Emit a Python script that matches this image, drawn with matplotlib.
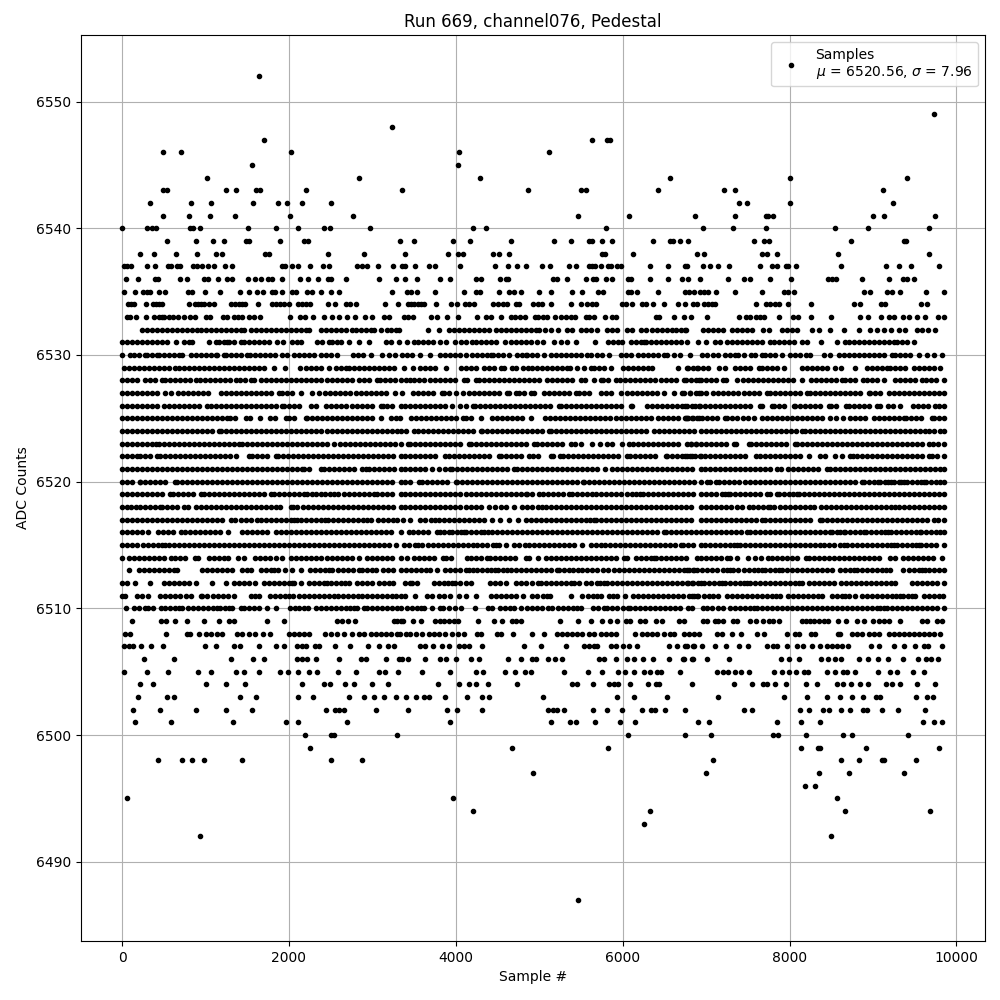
import matplotlib
matplotlib.use("Agg")
import matplotlib.pyplot as plt

# Sample numbers for each ADC level. The sparse levels are
# read point by point; the dense levels are read at about one dot per marker width.
s6552 = [1640]
s6549 = [9728]
s6548 = [3236]
s6547 = [1700, 5632, 5812, 5848]
s6546 = [488, 704, 2024, 4036, 5116]
s6545 = [1556, 4024]
s6544 = [1016, 2840, 4288, 6568, 8000, 9404]
s6543 = [488, 536, 1244, 1364, 1604, 1652, 2204, 3356, 4864, 5500, 5560, 6424, 7220, 7352, 9116]
s6542 = [332, 824, 1064, 1568, 1868, 1976, 2156, 2504, 7400, 7484, 8000, 9236]
s6541 = [488, 800, 1052, 1352, 2012, 2768, 5464, 6076, 6868, 7352, 7712, 7736, 7796, 8996, 9128, 9740]
s6540 = [0, 296, 356, 404, 812, 848, 932, 1508, 1844, 2108, 2420, 2492, 2972, 4204, 4360, 5800, 6968, 7328, 7712, 8540, 8936, 9668]
s6539 = [536, 884, 1088, 1220, 1484, 1520, 1892, 2180, 2228, 3332, 3496, 3964, 4168, 4660, 5176, 5380, 5596, 5632, 5752, 5872, 6364, 6568, 6604, 6688, 6784, 7568, 7688, 7748, 8732, 9368, 9392]
s6538 = [212, 380, 644, 896, 1124, 1196, 1712, 1760, 2468, 2900, 3388, 3904, 4024, 4084, 4444, 4516, 4636, 5752, 5788, 6124, 6892, 6980, 7664, 7724, 7844, 8576, 9668]
s6537 = [20, 56, 104, 296, 392, 548, 584, 656, 692, 848, 896, 956, 1028, 1100, 1232, 1316, 1916, 1952, 2036, 2108, 2252, 2408, 2480, 2816, 2876, 2936, 3068, 3248, 3352, 3388, 3508, 3676, 3748, 4048, 4468, 4624, 4732, 4840, 5032, 5128, 5356, 5440, 5596, 5632, 5668, 5740, 5824, 5860, 5932, 5980, 6328, 6544, 6748, 6772, 6968, 7052, 7148, 7280, 7640, 7784, 7844, 7952, 7976, 8080, 8612, 9152, 9308, 9452, 9788]
s6536 = [44, 188, 392, 428, 692, 776, 980, 1028, 1148, 1256, 1316, 1508, 1592, 1664, 1748, 1796, 1916, 2132, 2228, 2348, 2468, 2504, 2684, 3080, 3284, 3388, 3532, 3808, 3928, 4240, 4300, 4528, 4600, 4624, 5164, 5212, 5332, 5560, 5644, 5680, 5800, 5872, 6064, 6100, 6328, 6544, 6712, 6784, 6932, 7268, 7448, 7520, 7760, 8012, 8456, 8504, 8552, 8864, 9188, 9356, 9404, 9488]
s6535 = [20, 152, 248, 296, 332, 440, 512, 788, 836, 992, 1172, 1412, 1520, 1616, 1688, 1796, 1832, 1916, 2036, 2084, 2216, 2276, 2384, 2504, 2600, 3236, 3412, 3460, 3532, 3748, 4096, 4240, 4288, 4516, 4636, 4696, 4780, 4996, 5140, 5392, 5512, 5704, 5764, 6064, 6100, 6172, 6424, 6748, 6796, 6856, 6928, 6980, 7028, 7124, 7352, 7664, 7928, 7976, 8048, 8888, 8960, 9164, 9224, 9320, 9632, 9848]
s6534 = [68, 104, 140, 284, 368, 404, 440, 476, 800, 872, 908, 944, 980, 1040, 1100, 1304, 1352, 1400, 1436, 1472, 1628, 1796, 1844, 1892, 1940, 2000, 2108, 2156, 2204, 2252, 2468, 2552, 2684, 2732, 2804, 3152, 3308, 3424, 3460, 3496, 3544, 3580, 3616, 3760, 3940, 4012, 4108, 4156, 4216, 4444, 4504, 4564, 4612, 4720, 4756, 4924, 4984, 5032, 5140, 5380, 5500, 5572, 5632, 5680, 5992, 6040, 6112, 6232, 6280, 6364, 6496, 6664, 6748, 6844, 6892, 6980, 7028, 7076, 7112, 7592, 7712, 7760, 7820, 7868, 7976, 8252, 8768, 8840, 9092, 9140, 9572, 9644]
s6533 = [56, 92, 164, 284, 380, 440, 476, 500, 560, 608, 668, 740, 812, 872, 1004, 1052, 1208, 1256, 1340, 1388, 1436, 1520, 1580, 1652, 2012, 2132, 2192, 2288, 2420, 2516, 2600, 2696, 2792, 2912, 2996, 3140, 3200, 3376, 3424, 3484, 3704, 3776, 3892, 4024, 4252, 4360, 4420, 4540, 4660, 4708, 4768, 4828, 4948, 4984, 5044, 5092, 5188, 5260, 5320, 5380, 5428, 5560, 5596, 5656, 5788, 5872, 5920, 6400, 6436, 6616, 6736, 6820, 7016, 7400, 7472, 7520, 7592, 7640, 7688, 7868, 8036, 8096, 8252, 8492, 8840, 8936, 9092, 9188, 9248, 9356, 9428, 9524, 9620, 9776, 9848]
s6532 = [240, 300, 360, 420, 480, 540, 600, 660, 720, 780, 840, 900, 940, 1010, 1070, 1130, 1190, 1250, 1310, 1370, 1430, 1460, 1540, 1600, 1660, 1720, 1780, 1840, 1900, 1960, 2020, 2080, 2140, 2200, 2240, 2380, 2440, 2500, 2560, 2620, 2680, 2760, 2800, 2860, 2920, 2980, 3020, 3100, 3180, 3220, 3280, 3320, 3664, 3796, 3916, 3976, 4036, 4096, 4156, 4216, 4276, 4336, 4396, 4476, 4536, 4596, 4656, 4716, 4776, 4836, 4896, 4956, 4996, 5064, 5136, 5224, 5336, 5396, 5496, 5556, 5624, 5688, 5816, 5876, 5936, 6056, 6116, 6216, 6276, 6356, 6416, 6476, 6536, 6596, 6636, 6696, 6756, 6748, 6968, 7028, 7088, 7148, 7208, 7308, 7368, 7428, 7488, 7548, 7676, 7748, 7908, 7968, 8028, 8088, 8268, 8348, 8488, 8648, 8828, 8968, 9048, 9136, 9216, 9308, 9388, 9532, 9592, 9660, 9748]
s6531 = [0, 60, 120, 180, 240, 300, 360, 420, 480, 540, 644, 748, 800, 840, 1040, 1120, 1160, 1220, 1260, 1280, 1340, 1420, 1460, 1520, 1580, 1640, 1700, 1760, 1860, 1932, 2040, 2100, 2140, 2340, 2400, 2480, 2520, 2580, 2620, 2720, 2840, 2960, 3160, 3220, 3320, 3416, 3504, 3544, 3604, 3664, 3724, 3808, 3888, 3988, 4064, 4124, 4196, 4236, 4296, 4356, 4416, 4476, 4584, 4656, 4716, 4776, 4836, 4896, 4968, 5048, 5176, 5256, 5328, 5436, 5664, 5824, 5884, 5944, 5996, 6096, 6156, 6216, 6256, 6276, 6336, 6396, 6456, 6516, 6576, 6636, 6696, 6776, 6908, 7000, 7108, 7168, 7248, 7308, 7368, 7428, 7488, 7548, 7608, 7668, 7768, 7808, 7868, 7928, 7988, 8048, 8148, 8208, 8376, 8568, 8668, 8708, 8768, 8828, 8888, 8948, 9008, 9068, 9128, 9188, 9248, 9288, 9348, 9408, 9488]
s6530 = [0, 100, 140, 200, 280, 300, 360, 420, 440, 500, 560, 620, 680, 720, 820, 880, 940, 1000, 1060, 1120, 1140, 1220, 1250, 1310, 1370, 1430, 1500, 1530, 1590, 1650, 1710, 1770, 1830, 1920, 1980, 2060, 2120, 2180, 2240, 2300, 2380, 2440, 2500, 2570, 2770, 2830, 2890, 2980, 3120, 3200, 3270, 3360, 3420, 3480, 3576, 3696, 3816, 3876, 3936, 3996, 4056, 4116, 4196, 4248, 4308, 4368, 4416, 4448, 4508, 4568, 4636, 4728, 4788, 4836, 4856, 4916, 4976, 5056, 5136, 5196, 5256, 5316, 5376, 5436, 5496, 5576, 5616, 5688, 5748, 5836, 5976, 6036, 6096, 6184, 6248, 6308, 6368, 6428, 6496, 6536, 6616, 6688, 6808, 6948, 7008, 7088, 7148, 7228, 7288, 7348, 7388, 7448, 7536, 7588, 7668, 7708, 7768, 7828, 7908, 8008, 8068, 8128, 8200, 8240, 8408, 8480, 8588, 8648, 8708, 8768, 8828, 8888, 8948, 9008, 9068, 9128, 9228, 9268, 9328, 9388, 9448, 9556, 9648, 9728, 9828]
s6529 = [20, 80, 140, 200, 260, 320, 380, 440, 500, 560, 640, 680, 740, 800, 860, 920, 980, 1040, 1100, 1160, 1220, 1280, 1340, 1400, 1460, 1520, 1580, 1640, 1700, 1820, 1950, 2130, 2200, 2260, 2320, 2380, 2480, 2560, 2620, 2680, 2720, 2780, 2840, 2900, 2960, 3020, 3080, 3140, 3200, 3260, 3384, 3488, 3576, 3636, 3696, 3756, 3888, 4064, 4124, 4184, 4244, 4336, 4396, 4456, 4536, 4576, 4676, 4716, 4808, 4868, 4916, 4976, 5036, 5096, 5156, 5216, 5276, 5336, 5368, 5456, 5536, 5616, 5656, 5716, 5776, 5856, 6008, 6068, 6128, 6188, 6248, 6308, 6356, 6664, 6784, 6896, 6776, 6848, 6908, 6968, 7028, 7160, 7228, 7348, 7408, 7468, 7528, 7628, 7668, 7728, 7788, 7848, 7928, 8148, 8208, 8268, 8328, 8388, 8448, 8548, 8616, 8788, 8928, 8988, 9048, 9108, 9168, 9208, 9268, 9328, 9388, 9488, 9548, 9608, 9668, 9728, 9808]
s6528 = [0, 60, 120, 180, 280, 330, 390, 480, 510, 570, 630, 690, 750, 810, 880, 930, 990, 1050, 1110, 1170, 1230, 1290, 1360, 1410, 1470, 1540, 1580, 1670, 1730, 1790, 1850, 1910, 1970, 2030, 2090, 2150, 2210, 2270, 2330, 2390, 2450, 2510, 2570, 2630, 2690, 2750, 2840, 2900, 2960, 3060, 3090, 3150, 3210, 3270, 3340, 3400, 3456, 3496, 3556, 3616, 3688, 3756, 3816, 3876, 3936, 3996, 4096, 4136, 4236, 4276, 4336, 4396, 4456, 4516, 4576, 4636, 4696, 4756, 4816, 4876, 4936, 4996, 5088, 5148, 5208, 5268, 5328, 5388, 5496, 5544, 5656, 5736, 5768, 5828, 5916, 5968, 6028, 6088, 6148, 6208, 6268, 6328, 6388, 6456, 6516, 6576, 6636, 6736, 6816, 6916, 6760, 6876, 6936, 6996, 7056, 7116, 7200, 7240, 7368, 7440, 7500, 7560, 7620, 7680, 7740, 7800, 7860, 7920, 7980, 8040, 8148, 8256, 8316, 8376, 8436, 8496, 8556, 8628, 8668, 8720, 8780, 8880, 8928, 8988, 9048, 9128, 9268, 9328, 9388, 9448, 9508, 9588, 9640, 9700, 9760, 9848]
s6527 = [0, 60, 120, 180, 240, 300, 360, 420, 520, 590, 670, 730, 790, 850, 910, 970, 1030, 1180, 1240, 1300, 1360, 1420, 1480, 1540, 1600, 1660, 1720, 1780, 1880, 1920, 1980, 2040, 2140, 2280, 2360, 2430, 2490, 2550, 2610, 2670, 2730, 2800, 2860, 2920, 2980, 3040, 3100, 3160, 3270, 3356, 3488, 3544, 3608, 3668, 3728, 3836, 3864, 3924, 4008, 4088, 4156, 4216, 4276, 4336, 4396, 4456, 4516, 4608, 4636, 4716, 4756, 4816, 4896, 4936, 5056, 5116, 5176, 5236, 5296, 5356, 5436, 5476, 5536, 5596, 5744, 5804, 5864, 5984, 6056, 6116, 6176, 6236, 6296, 6356, 6416, 6496, 6616, 6736, 6808, 6916, 6708, 6808, 6876, 6936, 6996, 7080, 7148, 7208, 7268, 7328, 7388, 7448, 7508, 7568, 7628, 7728, 7760, 7820, 7880, 7940, 8000, 8060, 8120, 8208, 8240, 8300, 8360, 8420, 8480, 8540, 8600, 8660, 8720, 8780, 8840, 8948, 8960, 9020, 9080, 9188, 9248, 9308, 9368, 9428, 9488, 9548, 9608, 9668, 9728, 9788, 9850]
s6526 = [0, 60, 120, 180, 240, 300, 360, 420, 500, 560, 620, 680, 740, 800, 860, 920, 1020, 1060, 1120, 1180, 1240, 1300, 1360, 1420, 1480, 1540, 1600, 1660, 1720, 1780, 1840, 1920, 1940, 2000, 2060, 2120, 2260, 2320, 2440, 2500, 2560, 2620, 2680, 2760, 2820, 2880, 2940, 3000, 3100, 3130, 3180, 3240, 3340, 3396, 3456, 3516, 3576, 3636, 3696, 3756, 3816, 3876, 3956, 4056, 4116, 4208, 4224, 4284, 4344, 4404, 4464, 4524, 4584, 4644, 4704, 4764, 4824, 4884, 4944, 5004, 5064, 5124, 5236, 5264, 5324, 5384, 5444, 5504, 5564, 5624, 5684, 5744, 5804, 5864, 5924, 5984, 6096, 6116, 6288, 6348, 6408, 6468, 6528, 6588, 6648, 6708, 6768, 6828, 6916, 6748, 6868, 6928, 6988, 7048, 7108, 7168, 7228, 7288, 7348, 7408, 7468, 7528, 7648, 7668, 7788, 7808, 7868, 7928, 8048, 8068, 8128, 8188, 8248, 8308, 8368, 8468, 8496, 8556, 8680, 8708, 8768, 8828, 8888, 8948, 9048, 9088, 9176, 9240, 9328, 9476, 9536, 9596, 9656, 9748, 9788, 9848]
s6525 = [0, 60, 120, 180, 240, 300, 360, 420, 480, 540, 600, 660, 720, 780, 840, 900, 960, 1020, 1080, 1140, 1200, 1260, 1290, 1350, 1490, 1530, 1650, 1770, 1830, 1960, 2000, 2060, 2200, 2220, 2280, 2340, 2400, 2460, 2520, 2580, 2640, 2700, 2760, 2820, 2880, 2940, 3000, 3100, 3220, 3280, 3336, 3464, 3524, 3584, 3644, 3704, 3764, 3824, 3884, 3944, 4004, 4088, 4116, 4176, 4304, 4436, 4496, 4556, 4616, 4676, 4736, 4796, 4904, 5064, 5124, 5184, 5244, 5304, 5364, 5424, 5484, 5544, 5604, 5664, 5724, 5784, 5844, 5916, 5976, 6036, 6096, 6156, 6216, 6276, 6336, 6424, 6488, 6548, 6608, 6668, 6756, 6784, 6844, 6916, 6748, 6776, 6836, 6896, 6956, 7016, 7076, 7136, 7228, 7256, 7316, 7376, 7436, 7496, 7568, 7668, 7728, 7788, 7848, 7908, 7968, 8028, 8088, 8148, 8208, 8268, 8328, 8388, 8488, 8552, 8640, 8728, 8788, 8848, 8908, 9008, 9068, 9128, 9188, 9248, 9308, 9368, 9400, 9460, 9520, 9580, 9708, 9736, 9796, 9848]
s6524 = [0, 60, 120, 180, 240, 300, 360, 420, 480, 540, 600, 660, 720, 780, 840, 900, 960, 1020, 1080, 1160, 1190, 1250, 1310, 1370, 1430, 1490, 1550, 1610, 1670, 1730, 1790, 1850, 1910, 1970, 2030, 2090, 2150, 2210, 2270, 2330, 2390, 2450, 2520, 2570, 2630, 2690, 2750, 2810, 2870, 2930, 2990, 3050, 3110, 3170, 3230, 3290, 3340, 3400, 3496, 3544, 3604, 3664, 3724, 3784, 3844, 3904, 3964, 4024, 4084, 4144, 4204, 4296, 4316, 4376, 4436, 4496, 4556, 4616, 4676, 4736, 4796, 4856, 4916, 4976, 5036, 5116, 5144, 5204, 5264, 5324, 5384, 5444, 5504, 5564, 5624, 5684, 5744, 5804, 5864, 5924, 5984, 6044, 6104, 6164, 6224, 6284, 6376, 6436, 6496, 6556, 6616, 6676, 6736, 6796, 6856, 6936, 7000, 7060, 7120, 7180, 7240, 7300, 7360, 7420, 7480, 7540, 7600, 7660, 7720, 7780, 7840, 7900, 7960, 8020, 8080, 8148, 8188, 8248, 8308, 8368, 8428, 8488, 8548, 8608, 8668, 8728, 8788, 8848, 8908, 8968, 9028, 9088, 9148, 9208, 9268, 9328, 9388, 9448, 9508, 9568, 9628, 9668, 9728, 9808, 9848]
s6523 = [0, 60, 120, 180, 240, 300, 360, 410, 440, 500, 560, 620, 680, 740, 800, 860, 920, 980, 1040, 1100, 1160, 1220, 1280, 1340, 1400, 1440, 1500, 1560, 1620, 1680, 1740, 1800, 1860, 1920, 1980, 2040, 2100, 2160, 2220, 2280, 2340, 2400, 2460, 2540, 2610, 2670, 2730, 2790, 2850, 2910, 2970, 3030, 3090, 3150, 3210, 3270, 3340, 3424, 3448, 3508, 3568, 3628, 3688, 3748, 3808, 3868, 3928, 3988, 4048, 4156, 4184, 4244, 4304, 4364, 4424, 4484, 4544, 4604, 4664, 4724, 4784, 4844, 4936, 4976, 5036, 5096, 5156, 5216, 5276, 5376, 5424, 5504, 5636, 5724, 5816, 5876, 5996, 6076, 6128, 6188, 6248, 6308, 6368, 6428, 6488, 6548, 6608, 6668, 6776, 6824, 6884, 6936, 6816, 6876, 6996, 7056, 7116, 7176, 7236, 7336, 7360, 7508, 7536, 7596, 7656, 7716, 7776, 7836, 7896, 7956, 8068, 8088, 8148, 8208, 8268, 8328, 8388, 8448, 8508, 8568, 8628, 8688, 8748, 8808, 8868, 8928, 8988, 9048, 9108, 9168, 9228, 9288, 9348, 9408, 9468, 9528, 9588, 9668, 9720, 9780, 9850]
s6522 = [0, 60, 120, 180, 210, 270, 330, 420, 450, 510, 570, 630, 690, 750, 810, 870, 930, 990, 1050, 1110, 1170, 1230, 1290, 1360, 1520, 1560, 1620, 1680, 1740, 1840, 1870, 1930, 1990, 2050, 2110, 2170, 2230, 2290, 2350, 2410, 2470, 2530, 2590, 2650, 2710, 2770, 2830, 2890, 2950, 3010, 3070, 3130, 3190, 3250, 3340, 3396, 3456, 3516, 3576, 3636, 3696, 3756, 3876, 3916, 3976, 4036, 4096, 4156, 4216, 4276, 4336, 4396, 4516, 4536, 4596, 4656, 4716, 4776, 4876, 4928, 4988, 5136, 5168, 5248, 5288, 5348, 5408, 5468, 5528, 5588, 5648, 5708, 5768, 5828, 5888, 5948, 6056, 6088, 6148, 6208, 6268, 6328, 6388, 6516, 6536, 6596, 6656, 6716, 6776, 6836, 6936, 6748, 6808, 6868, 6928, 6988, 7048, 7108, 7168, 7228, 7288, 7348, 7408, 7468, 7600, 7640, 7700, 7760, 7820, 7880, 7940, 8000, 8060, 8120, 8228, 8368, 8428, 8548, 8628, 8728, 8760, 8808, 8868, 8928, 8988, 9048, 9108, 9168, 9228, 9288, 9348, 9408, 9468, 9528, 9588, 9668, 9708, 9768, 9850]
s6521 = [0, 60, 120, 180, 240, 300, 360, 420, 480, 540, 600, 660, 720, 780, 840, 900, 960, 1020, 1080, 1140, 1200, 1260, 1320, 1380, 1440, 1500, 1560, 1620, 1680, 1740, 1800, 1860, 1920, 1980, 2040, 2100, 2160, 2180, 2240, 2380, 2420, 2480, 2540, 2600, 2660, 2720, 2780, 2880, 2920, 2960, 3020, 3080, 3140, 3200, 3260, 3340, 3396, 3456, 3516, 3576, 3636, 3716, 3796, 3876, 3936, 3956, 4016, 4076, 4136, 4196, 4256, 4316, 4376, 4436, 4496, 4556, 4616, 4696, 4736, 4796, 4856, 4916, 4976, 5036, 5096, 5156, 5216, 5276, 5336, 5396, 5456, 5516, 5576, 5636, 5696, 5784, 5876, 5936, 5996, 6056, 6116, 6176, 6236, 6296, 6356, 6416, 6476, 6536, 6596, 6656, 6716, 6776, 6836, 6936, 6988, 7048, 7108, 7168, 7228, 7288, 7348, 7408, 7468, 7528, 7588, 7648, 7708, 7768, 7848, 7896, 7976, 8036, 8096, 8156, 8216, 8276, 8336, 8448, 8488, 8548, 8608, 8668, 8728, 8788, 8848, 8908, 8968, 9028, 9088, 9148, 9208, 9268, 9328, 9388, 9448, 9508, 9568, 9628, 9688, 9748, 9808, 9850]
s6520 = [0, 60, 120, 210, 220, 280, 340, 400, 460, 520, 630, 660, 720, 780, 840, 900, 960, 1020, 1080, 1140, 1200, 1260, 1320, 1380, 1440, 1500, 1560, 1620, 1680, 1740, 1800, 1860, 1920, 1980, 2040, 2100, 2160, 2220, 2280, 2340, 2400, 2460, 2520, 2580, 2640, 2700, 2760, 2820, 2880, 2940, 3000, 3060, 3120, 3180, 3240, 3340, 3396, 3456, 3556, 3596, 3656, 3716, 3776, 3836, 3896, 4008, 4016, 4076, 4136, 4196, 4256, 4316, 4376, 4436, 4496, 4556, 4616, 4676, 4736, 4796, 4856, 4916, 4976, 5036, 5096, 5156, 5216, 5276, 5336, 5396, 5456, 5528, 5536, 5596, 5656, 5716, 5776, 5836, 5896, 5956, 6016, 6076, 6136, 6196, 6256, 6316, 6376, 6436, 6496, 6556, 6616, 6676, 6736, 6796, 6856, 6936, 7016, 7048, 7120, 7160, 7220, 7280, 7340, 7400, 7460, 7520, 7580, 7640, 7700, 7760, 7820, 7880, 7940, 8000, 8060, 8120, 8180, 8240, 8300, 8360, 8420, 8480, 8540, 8600, 8660, 8720, 8780, 8868, 8888, 8950, 9010, 9056, 9080, 9140, 9180, 9216, 9248, 9310, 9340, 9376, 9408, 9468, 9528, 9570, 9616, 9640, 9700, 9760, 9800, 9850]
s6519 = [0, 60, 120, 180, 240, 300, 360, 420, 480, 580, 610, 670, 730, 790, 850, 940, 980, 1040, 1100, 1160, 1220, 1280, 1340, 1400, 1460, 1520, 1580, 1640, 1700, 1790, 1820, 1880, 1940, 2000, 2060, 2120, 2180, 2220, 2280, 2330, 2380, 2430, 2490, 2540, 2590, 2660, 2720, 2780, 2840, 2900, 2960, 3020, 3060, 3120, 3180, 3240, 3340, 3396, 3456, 3516, 3576, 3636, 3696, 3756, 3816, 3876, 3936, 3996, 4056, 4116, 4176, 4236, 4296, 4356, 4416, 4476, 4536, 4596, 4656, 4716, 4776, 4836, 4856, 4916, 4996, 5048, 5108, 5168, 5228, 5288, 5356, 5396, 5456, 5516, 5576, 5630, 5676, 5736, 5796, 5856, 5916, 5976, 6056, 6116, 6160, 6208, 6248, 6308, 6368, 6428, 6488, 6548, 6608, 6668, 6728, 6788, 6848, 6936, 7000, 7060, 7120, 7190, 7230, 7268, 7288, 7348, 7408, 7468, 7528, 7588, 7648, 7728, 7760, 7848, 7868, 7928, 7988, 8040, 8088, 8108, 8168, 8228, 8288, 8348, 8408, 8468, 8528, 8588, 8648, 8708, 8768, 8828, 8888, 8948, 9008, 9068, 9128, 9188, 9248, 9308, 9368, 9428, 9488, 9548, 9608, 9668, 9728, 9788, 9850]
s6518 = [0, 60, 110, 170, 210, 270, 330, 390, 450, 480, 540, 600, 660, 740, 790, 890, 950, 1010, 1070, 1130, 1190, 1250, 1310, 1370, 1430, 1490, 1550, 1610, 1670, 1730, 1790, 1850, 1890, 2020, 2050, 2100, 2170, 2230, 2290, 2350, 2410, 2470, 2530, 2590, 2650, 2710, 2770, 2830, 2890, 2950, 3010, 3070, 3130, 3190, 3250, 3340, 3396, 3456, 3516, 3576, 3636, 3696, 3756, 3816, 3876, 3936, 3996, 4056, 4116, 4180, 4236, 4304, 4396, 4468, 4536, 4596, 4696, 4796, 4856, 4916, 4980, 5030, 5076, 5144, 5204, 5264, 5324, 5384, 5444, 5504, 5564, 5624, 5684, 5744, 5804, 5864, 5924, 5984, 6044, 6104, 6164, 6224, 6284, 6344, 6404, 6464, 6524, 6584, 6644, 6704, 6764, 6824, 6936, 6996, 7056, 7116, 7176, 7236, 7300, 7368, 7428, 7508, 7560, 7620, 7680, 7740, 7770, 7808, 7888, 7948, 8008, 8068, 8128, 8190, 8248, 8296, 8376, 8436, 8496, 8556, 8616, 8676, 8736, 8796, 8856, 8916, 8976, 9036, 9096, 9156, 9210, 9268, 9308, 9368, 9428, 9488, 9548, 9608, 9668, 9728, 9788, 9850]
s6517 = [0, 60, 120, 180, 240, 300, 360, 420, 480, 540, 600, 660, 720, 780, 840, 900, 960, 1020, 1080, 1140, 1200, 1300, 1350, 1430, 1490, 1550, 1620, 1670, 1730, 1790, 1850, 1910, 1970, 2030, 2060, 2100, 2140, 2200, 2260, 2320, 2380, 2430, 2470, 2530, 2590, 2650, 2710, 2770, 2830, 2890, 2940, 2980, 3070, 3130, 3190, 3250, 3300, 3368, 3448, 3568, 3628, 3700, 3756, 3796, 3856, 3916, 3976, 4036, 4096, 4156, 4216, 4276, 4336, 4436, 4528, 4636, 4744, 4836, 4896, 4956, 5016, 5076, 5136, 5196, 5256, 5316, 5376, 5436, 5496, 5556, 5610, 5656, 5676, 5736, 5796, 5856, 5916, 5976, 6036, 6096, 6156, 6216, 6276, 6336, 6396, 6456, 6516, 6576, 6636, 6696, 6756, 6816, 6936, 6996, 7056, 7116, 7176, 7236, 7296, 7356, 7416, 7476, 7536, 7596, 7668, 7708, 7768, 7828, 7888, 7948, 8008, 8068, 8128, 8188, 8248, 8360, 8388, 8448, 8508, 8568, 8628, 8688, 8748, 8808, 8868, 8928, 8988, 9048, 9108, 9168, 9228, 9288, 9348, 9408, 9468, 9528, 9588, 9648, 9728, 9780, 9850]
s6516 = [0, 60, 120, 180, 240, 310, 430, 490, 550, 610, 710, 750, 810, 870, 930, 990, 1050, 1110, 1170, 1270, 1440, 1500, 1560, 1620, 1680, 1740, 1840, 1900, 1960, 2020, 2080, 2140, 2200, 2260, 2320, 2380, 2440, 2500, 2560, 2620, 2680, 2740, 2800, 2860, 2920, 2980, 3040, 3100, 3160, 3220, 3340, 3436, 3488, 3548, 3608, 3668, 3776, 3808, 3860, 3916, 3956, 4016, 4060, 4096, 4116, 4176, 4236, 4300, 4340, 4384, 4436, 4496, 4556, 4616, 4676, 4736, 4796, 4856, 4916, 4976, 5036, 5096, 5156, 5216, 5276, 5336, 5396, 5456, 5516, 5576, 5636, 5696, 5756, 5816, 5876, 5936, 5996, 6056, 6116, 6176, 6236, 6296, 6356, 6416, 6496, 6516, 6576, 6636, 6696, 6756, 6816, 6876, 6936, 6996, 7056, 7116, 7176, 7236, 7296, 7356, 7420, 7488, 7520, 7580, 7640, 7700, 7760, 7820, 7880, 7940, 8000, 8060, 8120, 8180, 8240, 8300, 8360, 8420, 8488, 8508, 8570, 8610, 8648, 8668, 8728, 8790, 8840, 8888, 8920, 8980, 9040, 9100, 9140, 9176, 9220, 9280, 9340, 9400, 9460, 9510, 9560, 9576, 9636, 9696, 9756, 9800, 9850]
s6515 = [0, 60, 120, 180, 250, 310, 370, 430, 480, 520, 560, 620, 680, 740, 800, 860, 920, 980, 1040, 1100, 1160, 1220, 1280, 1340, 1400, 1460, 1520, 1580, 1640, 1700, 1760, 1820, 1880, 1940, 2000, 2060, 2120, 2180, 2240, 2300, 2360, 2420, 2480, 2540, 2600, 2660, 2720, 2780, 2840, 2900, 2960, 3020, 3080, 3140, 3200, 3280, 3384, 3444, 3510, 3550, 3596, 3664, 3724, 3784, 3844, 3904, 3964, 4024, 4084, 4144, 4200, 4248, 4316, 4376, 4440, 4480, 4516, 4596, 4696, 4756, 4824, 4876, 4936, 4996, 5056, 5116, 5176, 5236, 5296, 5360, 5416, 5516, 5616, 5680, 5744, 5784, 5844, 5904, 5964, 6024, 6084, 6144, 6204, 6264, 6324, 6384, 6444, 6504, 6564, 6630, 6696, 6728, 6788, 6848, 6936, 6988, 7048, 7108, 7168, 7228, 7290, 7330, 7368, 7408, 7468, 7528, 7588, 7648, 7708, 7768, 7828, 7888, 7948, 8008, 8068, 8128, 8188, 8248, 8308, 8360, 8408, 8468, 8536, 8600, 8648, 8688, 8748, 8808, 8868, 8928, 8988, 9048, 9108, 9170, 9210, 9248, 9288, 9348, 9408, 9470, 9510, 9548, 9576, 9636, 9696, 9756, 9850]
s6514 = [0, 80, 140, 200, 260, 320, 380, 440, 500, 590, 630, 690, 750, 870, 910, 1040, 1100, 1160, 1220, 1270, 1390, 1460, 1590, 1650, 1710, 1770, 1840, 1920, 2020, 2080, 2140, 2200, 2260, 2320, 2390, 2450, 2510, 2570, 2630, 2690, 2750, 2840, 2930, 2990, 3050, 3110, 3170, 3230, 3340, 3416, 3496, 3556, 3616, 3676, 3736, 3848, 3888, 3948, 4136, 4184, 4244, 4304, 4368, 4408, 4468, 4528, 4588, 4648, 4708, 4836, 4876, 4984, 5076, 5136, 5196, 5256, 5316, 5376, 5436, 5496, 5556, 5616, 5676, 5736, 5796, 5856, 5916, 6016, 6056, 6156, 6216, 6276, 6336, 6376, 6396, 6456, 6516, 6576, 6636, 6696, 6756, 6896, 6936, 7000, 7060, 7120, 7180, 7248, 7288, 7376, 7496, 7584, 7660, 7736, 7788, 7848, 7908, 7968, 8028, 8088, 8200, 8228, 8288, 8348, 8408, 8468, 8528, 8588, 8648, 8708, 8768, 8828, 8888, 8948, 9008, 9068, 9208, 9260, 9360, 9420, 9480, 9540, 9600, 9660, 9720, 9828]
s6513 = [80, 200, 260, 320, 380, 440, 500, 560, 620, 660, 960, 1020, 1080, 1140, 1200, 1260, 1320, 1440, 1500, 1550, 1670, 1730, 1780, 1820, 1870, 1950, 2040, 2150, 2250, 2310, 2370, 2430, 2480, 2520, 2590, 2650, 2710, 2770, 2840, 2880, 2940, 3000, 3040, 3130, 3190, 3250, 3340, 3400, 3460, 3520, 3580, 3640, 3696, 3776, 3876, 3936, 3996, 4056, 4116, 4160, 4208, 4248, 4310, 4370, 4420, 4464, 4504, 4560, 4610, 4656, 4716, 4776, 4836, 4896, 4956, 5016, 5076, 5136, 5208, 5236, 5296, 5356, 5410, 5464, 5516, 5576, 5636, 5696, 5760, 5824, 5896, 5956, 6016, 6076, 6136, 6196, 6256, 6316, 6376, 6436, 6496, 6556, 6616, 6676, 6736, 6796, 6846, 6896, 6776, 6856, 6956, 7016, 7076, 7136, 7200, 7250, 7288, 7328, 7388, 7448, 7508, 7570, 7620, 7668, 7708, 7770, 7820, 7868, 7908, 7968, 8028, 8088, 8148, 8208, 8268, 8328, 8388, 8450, 8508, 8608, 8668, 8720, 8768, 8808, 8868, 8928, 8988, 9048, 9110, 9160, 9208, 9360, 9428, 9488, 9550, 9590, 9628, 9668, 9728, 9788, 9850]
s6512 = [0, 60, 160, 330, 500, 560, 620, 680, 740, 800, 880, 1080, 1250, 1340, 1400, 1460, 1520, 1590, 1700, 1760, 1820, 1880, 1940, 2000, 2040, 2060, 2140, 2240, 2300, 2360, 2420, 2460, 2500, 2560, 2620, 2670, 2720, 2820, 2880, 2940, 3000, 3080, 3140, 3200, 3250, 3396, 3456, 3480, 3536, 3736, 3796, 3860, 3910, 3956, 3996, 4056, 4116, 4184, 4408, 4468, 4530, 4596, 4716, 4776, 4840, 4916, 4984, 5016, 5076, 5136, 5196, 5260, 5320, 5376, 5416, 5480, 5556, 5624, 5690, 5730, 5776, 5816, 5876, 5936, 5996, 6056, 6116, 6176, 6236, 6296, 6356, 6416, 6476, 6536, 6596, 6656, 6716, 6776, 6836, 6936, 6788, 6848, 6908, 6970, 7030, 7090, 7150, 7190, 7228, 7288, 7348, 7410, 7450, 7488, 7528, 7588, 7648, 7708, 7768, 7828, 7888, 7950, 8010, 8070, 8110, 8148, 8228, 8288, 8350, 8410, 8470, 8536, 8616, 8676, 8736, 8796, 8856, 8916, 8980, 9040, 9100, 9160, 9220, 9268, 9468, 9528, 9588, 9648, 9708, 9768, 9850]
s6511 = [0, 40, 180, 240, 310, 460, 520, 580, 640, 700, 760, 820, 940, 960, 1020, 1090, 1150, 1210, 1270, 1340, 1540, 1590, 1640, 1770, 1830, 1890, 1950, 2000, 2050, 2120, 2180, 2240, 2300, 2360, 2420, 2480, 2540, 2590, 2650, 2710, 2770, 2830, 2880, 2940, 3000, 3060, 3120, 3180, 3240, 3280, 3340, 3396, 3516, 3656, 3720, 3796, 3856, 3936, 4036, 4116, 4236, 4416, 4476, 4540, 4600, 4656, 4716, 4808, 4916, 4976, 5040, 5090, 5128, 5376, 5516, 5580, 5640, 5690, 5736, 5836, 5880, 5936, 6024, 6128, 6188, 6248, 6308, 6368, 6428, 6488, 6548, 6608, 6668, 6728, 6790, 6828, 6850, 6890, 6908, 6970, 7030, 7088, 7148, 7248, 7308, 7368, 7428, 7490, 7550, 7610, 7670, 7730, 7790, 7840, 7888, 7976, 8036, 8100, 8160, 8220, 8280, 8340, 8388, 8508, 8570, 8630, 8670, 8708, 8788, 8868, 8928, 8990, 9050, 9110, 9170, 9230, 9280, 9328, 9360, 9420, 9470, 9508, 9608, 9668, 9728, 9790, 9840]
s6510 = [50, 140, 200, 280, 310, 370, 470, 520, 580, 640, 680, 720, 790, 850, 910, 970, 1030, 1090, 1140, 1170, 1230, 1280, 1320, 1420, 1460, 1520, 1580, 1640, 1740, 1850, 2010, 2070, 2120, 2180, 2230, 2320, 2380, 2440, 2500, 2560, 2620, 2680, 2730, 2780, 2810, 2900, 2940, 3000, 3060, 3120, 3180, 3240, 3290, 3340, 3416, 3476, 3540, 3580, 3616, 3716, 3808, 3848, 3920, 3996, 4060, 4228, 4384, 4436, 4528, 4584, 4644, 4700, 4776, 4856, 4916, 4976, 5036, 5100, 5156, 5224, 5284, 5344, 5410, 5450, 5496, 5648, 5708, 5770, 5816, 5876, 5936, 6000, 6064, 6088, 6148, 6208, 6268, 6328, 6388, 6448, 6508, 6568, 6628, 6688, 6788, 6828, 6968, 7016, 7076, 7140, 7200, 7288, 7348, 7410, 7470, 7520, 7568, 7608, 7668, 7728, 7788, 7848, 7908, 7968, 8028, 8088, 8148, 8208, 8268, 8328, 8388, 8448, 8508, 8568, 8630, 8688, 8748, 8808, 8868, 8928, 8990, 9050, 9090, 9128, 9168, 9228, 9288, 9348, 9408, 9468, 9528, 9588, 9648, 9708, 9768, 9848]
s6509 = [116, 472, 532, 632, 776, 980, 1160, 1280, 1340, 1736, 1940, 2580, 2640, 2710, 2790, 3260, 3300, 3340, 3368, 3484, 3580, 3748, 3808, 3856, 3916, 3976, 4024, 4264, 4456, 4552, 4672, 4720, 4780, 5248, 5464, 5620, 5756, 5848, 5932, 6040, 6088, 6208, 6268, 6400, 6472, 6676, 6736, 6968, 7016, 7112, 7148, 7208, 7328, 7376, 7520, 7592, 7676, 7748, 7796, 7868, 8144, 8192, 8240, 8288, 8348, 8408, 8456, 8576, 8676, 8808, 8888, 8996, 9068, 9128, 9188, 9320, 9584, 9644, 9764, 9824]
s6508 = [40, 100, 524, 776, 812, 920, 1004, 1060, 1140, 1196, 1380, 1440, 1520, 1590, 1688, 1772, 2000, 2060, 2120, 2180, 2240, 2430, 2500, 2580, 2660, 2752, 2840, 2900, 2980, 3040, 3100, 3160, 3220, 3300, 3336, 3400, 3456, 3520, 3592, 3676, 3736, 3796, 3876, 3956, 4024, 4096, 4248, 4296, 4496, 4536, 4684, 4912, 5056, 5208, 5268, 5328, 5388, 5448, 5516, 5596, 5656, 5736, 5796, 5856, 5916, 6148, 6236, 6296, 6356, 6416, 6496, 6568, 6616, 6736, 6796, 6856, 6916, 7128, 7188, 7316, 7416, 7608, 7688, 7964, 8068, 8108, 8256, 8308, 8576, 8608, 8748, 8808, 8868, 8948, 9008, 9068, 9188, 9248, 9308, 9368, 9428, 9488, 9548, 9608, 9668, 9728, 9808]
s6507 = [28, 80, 128, 228, 348, 488, 992, 1124, 1340, 1412, 1640, 1844, 1940, 2100, 2160, 2200, 2308, 2360, 2552, 2732, 2948, 3080, 3188, 3260, 3568, 3628, 3724, 3832, 3916, 4036, 4096, 4156, 4316, 4816, 5016, 5320, 5536, 5596, 5656, 5696, 5864, 5924, 6008, 6076, 6176, 6556, 6656, 6768, 6856, 6752, 6848, 6948, 7112, 7244, 7400, 7504, 7724, 7796, 7844, 7964, 8084, 8156, 8264, 8360, 8448, 8512, 8564, 8624, 8696, 8972, 9076, 9248, 9368, 9500, 9608, 9656, 9824]
s6506 = [260, 620, 1304, 1568, 1700, 2100, 2156, 2220, 2324, 2604, 2860, 2920, 3160, 3320, 3356, 3424, 3628, 3808, 3880, 4000, 4184, 4276, 4624, 4780, 4912, 4960, 5104, 5184, 5272, 5716, 5776, 5920, 6056, 6136, 6244, 6364, 6556, 6736, 6844, 6728, 6836, 7016, 7280, 7892, 7988, 8108, 8372, 8456, 8540, 8612, 8828, 8936, 9056, 9176, 9356, 9536, 9632, 9692, 9776]
s6505 = [20, 296, 548, 908, 1064, 1364, 1460, 1640, 1892, 1984, 2108, 2240, 2340, 2588, 2804, 3080, 3152, 3308, 3592, 3928, 4240, 4324, 4588, 4708, 4828, 4900, 5296, 5584, 5752, 5944, 6028, 6136, 6256, 6328, 6416, 6464, 6688, 7128, 7208, 7268, 7348, 7416, 7508, 7808, 7904, 7988, 8072, 8168, 8216, 8444, 8540, 8636, 8684, 8780, 9056, 9200, 9284, 9476, 9608]
s6504 = [212, 368, 1004, 1244, 1472, 2156, 2420, 2492, 2672, 2780, 2996, 3188, 3784, 4036, 4156, 4240, 4384, 4732, 5396, 5456, 5644, 5836, 5896, 5944, 6088, 6304, 6400, 6436, 6832, 7340, 7544, 7676, 7724, 7820, 7952, 8192, 8328, 8564, 8636, 8732, 8840, 8936, 9152, 9224, 9320, 9524, 9740]
s6503 = [188, 536, 620, 1412, 1604, 2108, 2288, 2720, 2900, 3020, 3140, 3284, 3400, 3520, 3616, 3676, 3868, 4132, 4312, 4396, 5044, 5932, 6136, 6532, 7148, 7928, 8204, 8444, 8600, 8744, 8876, 9032, 9080, 9512, 9644, 9716]
s6502 = [128, 452, 884, 1244, 1556, 2440, 2552, 2600, 2660, 3044, 3424, 3892, 4012, 4312, 5100, 5164, 5212, 5296, 5644, 5812, 5992, 6232, 6340, 6388, 6508, 6748, 7448, 7544, 8120, 8228, 8396, 8468, 8612, 8720, 8876, 8924, 9104, 9296, 9620]
s6501 = [152, 584, 1328, 1964, 2108, 2696, 3928, 5140, 5368, 5440, 5668, 5968, 6148, 6904, 7040, 7844, 8132, 8360, 9596, 9728, 9824]
s6500 = [2192, 2500, 2540, 3296, 6064, 6748, 7064, 7796, 7856, 8192, 8636, 8744, 9416]
s6499 = [2252, 4672, 5824, 8132, 8336, 8360, 8912, 9788]
s6498 = [428, 716, 836, 980, 1436, 2504, 2876, 7088, 8612, 8828, 9104, 9128, 9512]
s6497 = [4924, 7004, 8348, 8708, 9368]
s6496 = [8180, 8300]
s6495 = [56, 3964, 8564]
s6494 = [4204, 6328, 8660, 9680]
s6493 = [6256]
s6492 = [932, 8492]
s6487 = [5464]

levels = [6552, 6549, 6548, 6547, 6546, 6545, 6544, 6543, 6542, 6541, 6540, 6539, 6538,
          6537, 6536, 6535, 6534, 6533, 6532, 6531, 6530, 6529, 6528, 6527, 6526, 6525,
          6524, 6523, 6522, 6521, 6520, 6519, 6518, 6517, 6516, 6515, 6514, 6513, 6512,
          6511, 6510, 6509, 6508, 6507, 6506, 6505, 6504, 6503, 6502, 6501, 6500, 6499,
          6498, 6497, 6496, 6495, 6494, 6493, 6492, 6487]
samples_by_level = [s6552, s6549, s6548, s6547, s6546, s6545, s6544, s6543, s6542, s6541, s6540, s6539, s6538,
                    s6537, s6536, s6535, s6534, s6533, s6532, s6531, s6530, s6529, s6528, s6527, s6526, s6525,
                    s6524, s6523, s6522, s6521, s6520, s6519, s6518, s6517, s6516, s6515, s6514, s6513, s6512,
                    s6511, s6510, s6509, s6508, s6507, s6506, s6505, s6504, s6503, s6502, s6501, s6500, s6499,
                    s6498, s6497, s6496, s6495, s6494, s6493, s6492, s6487]

x = [s for row in samples_by_level for s in row]
y = [lv for lv, row in zip(levels, samples_by_level) for _ in row]

fig, ax = plt.subplots(figsize=(10, 10), dpi=100)
ax.plot(x, y, "k.", label="Samples\n$\\mu$ = 6520.56, $\\sigma$ = 7.96")
ax.set_title("Run 669, channel076, Pedestal")
ax.set_xlabel("Sample #")
ax.set_ylabel("ADC Counts")
ax.grid(True)
ax.ticklabel_format(useOffset=False, style="plain", axis="y")
ax.legend(loc="upper right")
fig.subplots_adjust(left=0.081, right=0.985, top=0.965, bottom=0.059)
fig.savefig("out.png")
